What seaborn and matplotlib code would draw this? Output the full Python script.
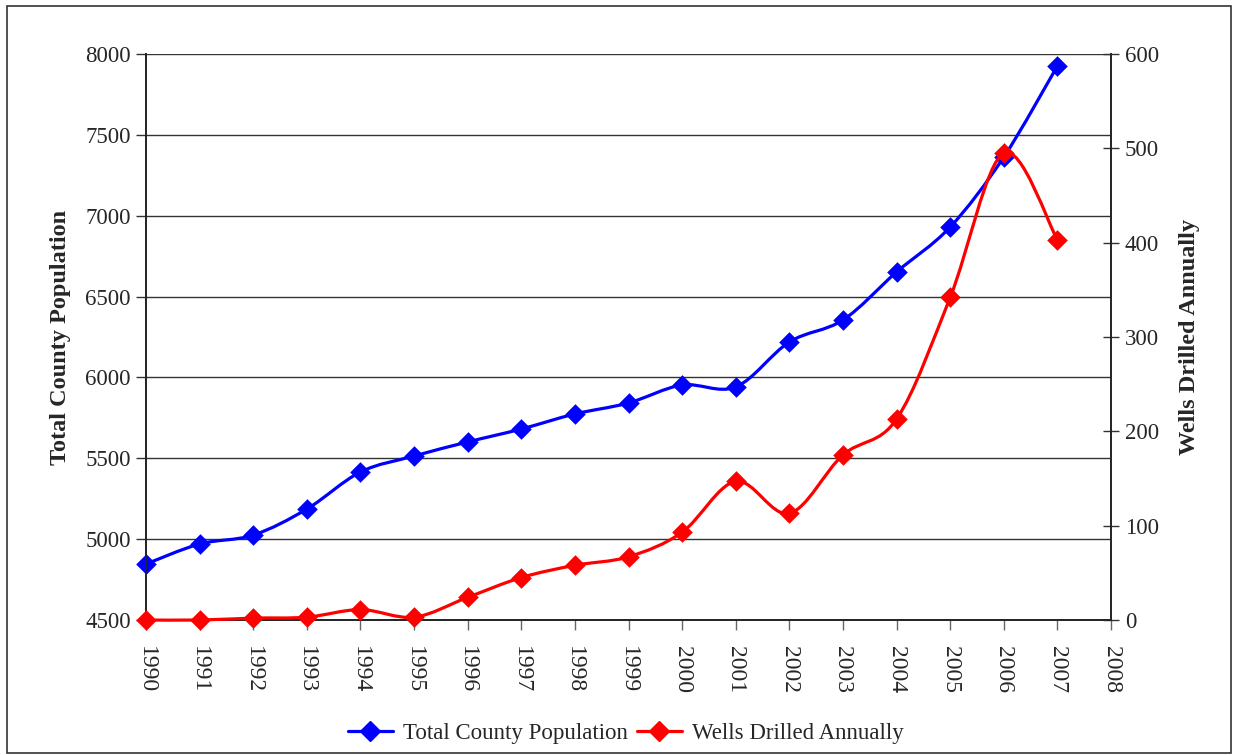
import numpy as np
import pandas as pd
import matplotlib
matplotlib.use("Agg")
import matplotlib.pyplot as plt
import seaborn as sns
from matplotlib.path import Path
from matplotlib.patches import PathPatch, Rectangle
from matplotlib.lines import Line2D

years = [1990, 1991, 1992, 1993, 1994, 1995, 1996, 1997, 1998,
         1999, 2000, 2001, 2002, 2003, 2004, 2005, 2006, 2007]
population = [4846, 4970, 5025, 5186, 5415, 5514, 5601, 5681, 5774,
              5842, 5953, 5941, 6219, 6355, 6652, 6930, 7363, 7926]
wells = [0, 0, 2, 3, 11, 3, 24, 45, 58,
         67, 93, 147, 113, 175, 213, 342, 495, 403]

df = pd.DataFrame({"Year": years, "Population": population, "Wells": wells})


def smooth_path(x, y):
    # Excel-style smoothed line: cubic Bezier segments (Catmull-Rom control points)
    pts = np.column_stack([x, y]).astype(float)
    n = len(pts)
    verts = [pts[0]]
    codes = [Path.MOVETO]
    for i in range(n - 1):
        p0 = pts[i - 1] if i > 0 else pts[i]
        p1 = pts[i]
        p2 = pts[i + 1]
        p3 = pts[i + 2] if i + 2 < n else pts[i + 1]
        verts += [p1 + (p2 - p0) / 6, p2 - (p3 - p1) / 6, p2]
        codes += [Path.CURVE4] * 3
    return Path(verts, codes)


sns.set_style("white")
plt.rcParams["font.family"] = ["Liberation Serif", "DejaVu Serif"]

fig = plt.figure(figsize=(12.36, 7.55), dpi=100)
ax = fig.add_axes([0.1181, 0.1788, 0.7808, 0.7497])
ax2 = ax.twinx()

blue = "#0000FF"
red = "#FF0000"

ax.add_patch(PathPatch(smooth_path(df["Year"], df["Population"]), fill=False,
                       edgecolor=blue, lw=2.3, zorder=3))
sns.scatterplot(data=df, x="Year", y="Population", marker="D", s=110,
                color=blue, edgecolor=blue, linewidth=0, ax=ax, zorder=4,
                clip_on=False)

ax2.add_patch(PathPatch(smooth_path(df["Year"], df["Wells"]), fill=False,
                        edgecolor=red, lw=2.3, zorder=3, clip_on=False))
sns.scatterplot(data=df, x="Year", y="Wells", marker="D", s=110,
                color=red, edgecolor=red, linewidth=0, ax=ax2, zorder=4,
                clip_on=False)

ax.set_xlim(1990, 2008)
ax.set_ylim(4500, 8000)
ax2.set_ylim(0, 600)
ax.set_xticks(range(1990, 2009))
ax.set_xticklabels([str(v) for v in range(1990, 2009)], rotation=-90, fontsize=17)
ax.set_yticks(range(4500, 8001, 500))
ax2.set_yticks(range(0, 601, 100))
ax.tick_params(axis="y", labelsize=16.5, direction="out", length=7, width=1,
               left=True, color="#333333", pad=4)
ax.tick_params(axis="x", direction="out", length=7, width=1, bottom=True,
               color="#666666", pad=12)
ax2.tick_params(axis="y", labelsize=16.5, direction="inout", length=12, width=1,
                right=True, color="#333333", pad=4)

ax.grid(axis="y", color="#333333", lw=1)
ax.grid(axis="x", visible=False)
ax2.grid(False)

for a in (ax, ax2):
    a.spines["top"].set_visible(False)
    for s in ("left", "right", "bottom"):
        a.spines[s].set_color("#222222")
        a.spines[s].set_linewidth(1.2)

ax.set_xlabel("")
ax.set_ylabel("Total County Population", fontsize=17.5, fontweight="bold", labelpad=10)
ax2.set_ylabel("Wells Drilled Annually", fontsize=17.5, fontweight="bold", labelpad=14)

handles = [
    Line2D([], [], color=blue, lw=2.3, marker="D", markersize=10),
    Line2D([], [], color=red, lw=2.3, marker="D", markersize=10),
]
fig.legend(handles, ["Total County Population", "Wells Drilled Annually"],
           loc="center", bbox_to_anchor=(0.506, 0.028), ncol=2, frameon=False,
           fontsize=16.5, handlelength=2.0, handletextpad=0.4, columnspacing=0.4)

fig.patches.append(Rectangle((0.006, 0.002), 0.99, 0.99, transform=fig.transFigure,
                             fill=False, edgecolor="#333333", lw=1.2))

fig.savefig("out.png", dpi=100)
